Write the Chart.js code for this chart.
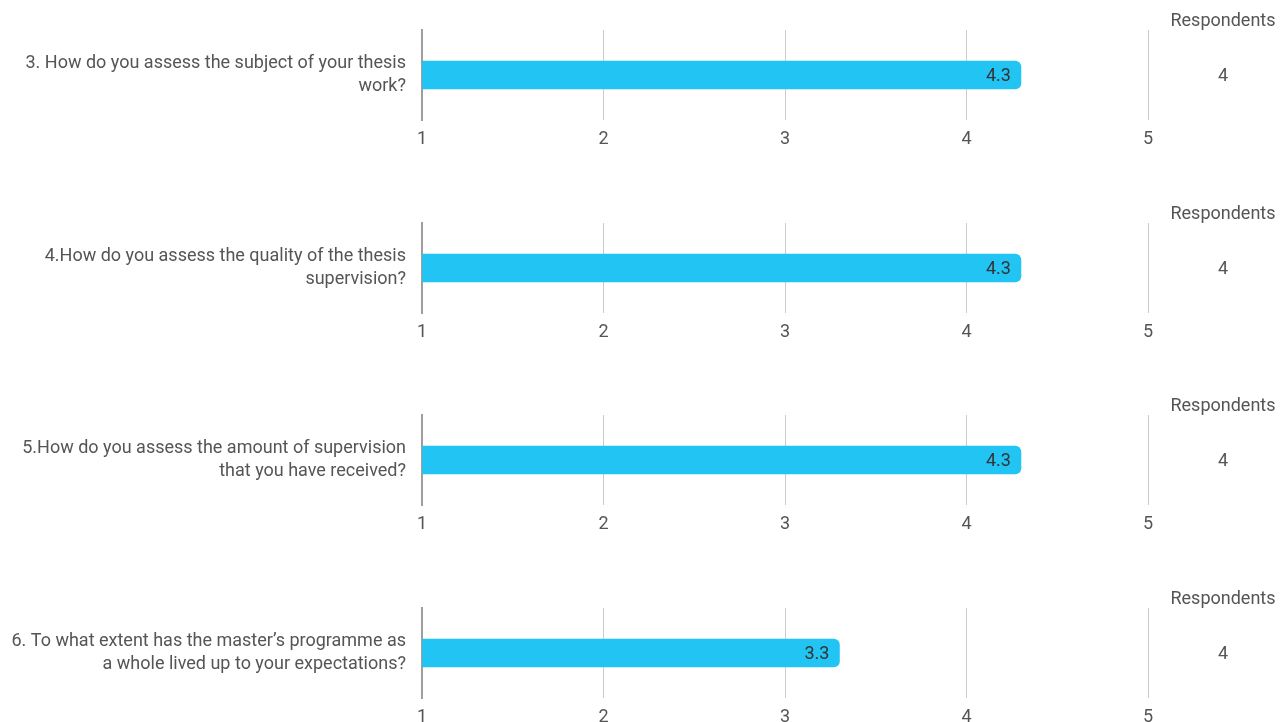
<!DOCTYPE html>
<html>
<head>
<meta charset="utf-8">
<script src="https://cdn.jsdelivr.net/npm/chart.js@4/dist/chart.umd.min.js"></script>
<style>
  html, body { margin: 0; padding: 0; background: #fff; overflow: hidden; width: 1288px; height: 722px; }
  .panel { position: absolute; left: 0; width: 1288px; height: 193px; }
</style>
</head>
<body>
<div id="wrap"></div>
<script>
const questions = [
  ["3. How do you assess the subject of your thesis", "work?"],
  ["4.How do you assess the quality of the thesis", "supervision?"],
  ["5.How do you assess the amount of supervision", "that you have received?"],
  ["6. To what extent has the master\u2019s programme as", "a whole lived up to your expectations?"]
];
const means = [4.3, 4.3, 4.3, 3.3];
const respondents = [4, 4, 4, 4];
const scaleMin = 1;
const scaleMax = 5;
const respondentsHeader = "Respondents";

const panelTops = [0, 193, 385, 578];
const FONT = "Roboto, 'Noto Sans', sans-serif";
const TEXT = "#555555";

const extrasPlugin = {
  id: 'extras',
  afterDatasetsDraw(chart, args, opts) {
    const ctx = chart.ctx;
    const meta = chart.getDatasetMeta(0);
    ctx.save();
    ctx.font = "18px " + FONT;
    meta.data.forEach((bar, i) => {
      const v = chart.data.datasets[0].data[i];
      ctx.fillStyle = "#333333";
      ctx.textAlign = "right";
      ctx.textBaseline = "middle";
      ctx.fillText(v.toFixed(1), bar.x - 10, bar.y + 1);
      ctx.fillStyle = TEXT;
      ctx.textAlign = "center";
      ctx.fillText(String(opts.respondents), 1223, bar.y + 1);
    });
    ctx.fillStyle = TEXT;
    ctx.textAlign = "center";
    ctx.textBaseline = "middle";
    ctx.fillText(respondentsHeader, 1223, 21);
    ctx.restore();
  }
};

const wrap = document.getElementById('wrap');
questions.forEach((q, i) => {
  const div = document.createElement('div');
  div.className = 'panel';
  div.style.top = panelTops[i] + 'px';
  const cv = document.createElement('canvas');
  cv.width = 1288; cv.height = 193;
  cv.style.width = '1288px'; cv.style.height = '193px';
  div.appendChild(cv);
  wrap.appendChild(div);

  new Chart(cv, {
    type: 'bar',
    data: {
      labels: [q],
      datasets: [{
        data: [means[i]],
        base: scaleMin,
        backgroundColor: '#22C4F4',
        borderRadius: { topLeft: 0, bottomLeft: 0, topRight: 6, bottomRight: 6 },
        borderSkipped: false,
        barThickness: 28
      }]
    },
    options: {
      indexAxis: 'y',
      responsive: false,
      animation: false,
      devicePixelRatio: 1,
      layout: { padding: { left: 0, right: 140, top: 30, bottom: 0 } },
      plugins: {
        legend: { display: false },
        tooltip: { enabled: false },
        extras: { respondents: respondents[i] }
      },
      scales: {
        x: {
          type: 'linear',
          min: scaleMin,
          max: scaleMax,
          ticks: {
            stepSize: 1,
            color: TEXT,
            font: { family: FONT, size: 18 },
            padding: 9
          },
          grid: { color: '#cccccc', lineWidth: 1, drawTicks: false },
          border: { display: false },
          afterFit(scale) { scale.height = 73; scale.paddingLeft = 0; scale.paddingRight = 0; }
        },
        y: {
          ticks: {
            color: TEXT,
            font: { family: FONT, size: 18, lineHeight: 1.25 },
            padding: 16
          },
          grid: { display: false, drawTicks: false },
          border: { display: true, color: '#9e9e9e', width: 2 },
          afterFit(scale) { scale.width = 422; scale.paddingTop = 0; scale.paddingBottom = 0; }
        }
      }
    },
    plugins: [extrasPlugin]
  });
});
</script>
</body>
</html>
